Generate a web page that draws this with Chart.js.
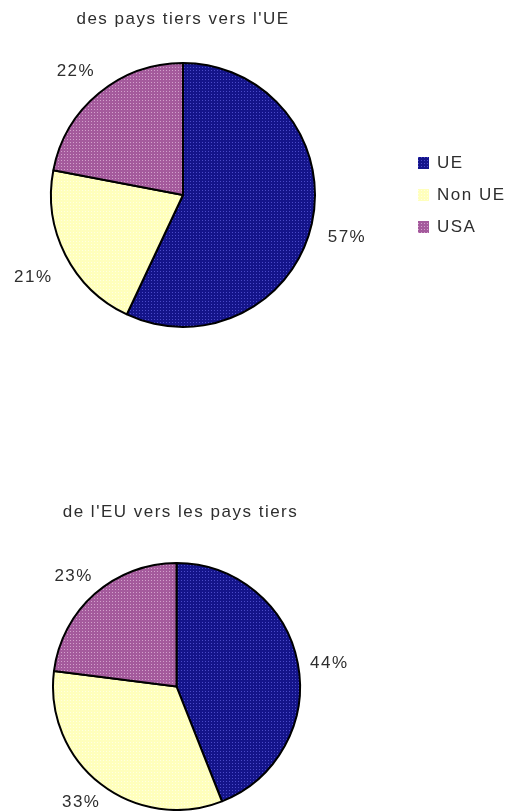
<!DOCTYPE html>
<html>
<head>
<meta charset="utf-8">
<script src="https://cdn.jsdelivr.net/npm/chart.js@4.4.1/dist/chart.umd.min.js"></script>
<style>
  html, body { margin: 0; padding: 0; background: #fff; }
  .wrap { position: relative; width: 506px; height: 811px; overflow: hidden; }
  .wrap canvas { position: absolute; left: 0; top: 0; }
</style>
</head>
<body>
<div class="wrap">
  <canvas id="importChart" width="506" height="811"></canvas>
  <canvas id="exportChart" width="506" height="811"></canvas>
</div>
<script>
  const categories = ["UE", "Non UE", "USA"];
  const importShares = [57, 21, 22]; // des pays tiers vers l'UE
  const exportShares = [44, 33, 23]; // de l'EU vers les pays tiers
  const importTitle = "des pays tiers vers l'UE";
  const exportTitle = "de l'EU vers les pays tiers";

  const TEXT_FONT = "17px 'Liberation Sans', Arial, sans-serif";
  const TEXT_COLOR = "#2e2e2e";

  // small dotted fill, like the old office chart patterns
  function dotted(base, dot) {
    const c = document.createElement("canvas");
    c.width = 3;
    c.height = 3;
    const g = c.getContext("2d");
    g.fillStyle = base;
    g.fillRect(0, 0, 3, 3);
    g.fillStyle = dot;
    g.fillRect(1, 1, 1, 1);
    return g.createPattern(c, "repeat");
  }

  const fills = [
    dotted("#14148a", "#4a4ac8"),
    dotted("#ffffbc", "#ffffe2"),
    dotted("#a45a9c", "#d2a0cc"),
  ];

  const decorations = {
    id: "decorations",
    afterDatasetsDraw(chart, args, opts) {
      const ctx = chart.ctx;
      const area = chart.chartArea;
      const meta = chart.getDatasetMeta(0);
      const values = chart.data.datasets[0].data;

      ctx.save();
      ctx.font = TEXT_FONT;
      ctx.fillStyle = TEXT_COLOR;
      ctx.letterSpacing = "1.5px";
      ctx.textAlign = "center";
      ctx.textBaseline = "middle";

      // title above the pie
      ctx.fillText(opts.title, (area.left + area.right) / 2 + opts.titleShift, area.top - opts.titleGap);

      // percentage labels outside each slice, kept inside the canvas
      meta.data.forEach((arc, i) => {
        const p = arc.getProps(["x", "y", "startAngle", "endAngle", "outerRadius"], true);
        const mid = (p.startAngle + p.endAngle) / 2;
        const d = p.outerRadius + opts.labelGap;
        const lx = p.x + Math.cos(mid) * d;
        const ly = Math.min(p.y + Math.sin(mid) * d + 6, chart.height - 9);
        ctx.fillText(values[i] + "%", lx, ly);
      });

      // legend
      if (opts.legend) {
        ctx.textAlign = "left";
        categories.forEach((name, i) => {
          const y = opts.legend.y + i * opts.legend.step;
          ctx.fillStyle = fills[i];
          ctx.fillRect(opts.legend.x, y - 6, 11, 12);
          ctx.fillStyle = TEXT_COLOR;
          ctx.fillText(name, opts.legend.x + 19, y);
        });
      }
      ctx.restore();
    },
  };

  function makePie(id, values, title, padding, extra) {
    return new Chart(document.getElementById(id), {
      type: "pie",
      data: {
        labels: categories,
        datasets: [
          {
            data: values,
            backgroundColor: fills,
            borderColor: "#000",
            borderWidth: 2,
          },
        ],
      },
      options: {
        responsive: false,
        animation: false,
        layout: { padding: padding },
        plugins: {
          legend: { display: false },
          tooltip: { enabled: false },
          decorations: Object.assign({ title: title }, extra),
        },
      },
      plugins: [decorations],
    });
  }

  makePie("importChart", importShares, importTitle,
    { left: 50, right: 190, top: 62, bottom: 483 },
    { titleGap: 43, titleShift: 0, labelGap: 36, legend: { x: 418, y: 163, step: 32 } });

  makePie("exportChart", exportShares, exportTitle,
    { left: 52, right: 205, top: 562, bottom: 0 },
    { titleGap: 50, titleShift: 4, labelGap: 32 });
</script>
</body>
</html>
